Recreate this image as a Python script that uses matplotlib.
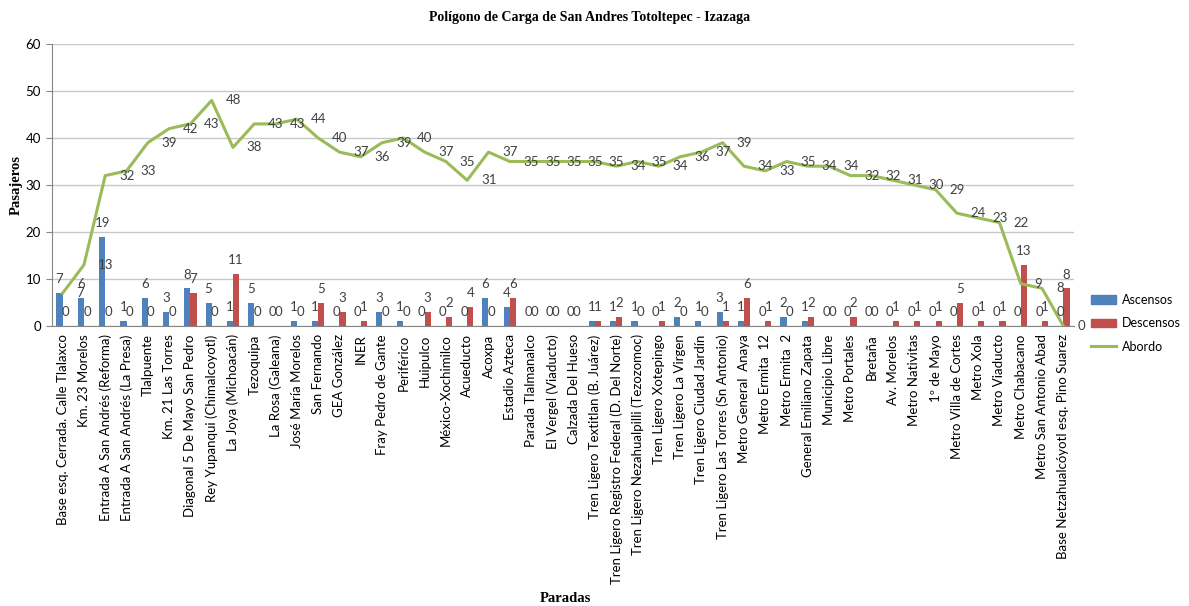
import numpy as np
import matplotlib
matplotlib.use('Agg')
from matplotlib import pyplot as plt
from matplotlib.lines import Line2D
from matplotlib.patches import Patch

paradas = ['Base esq. Cerrada. Calle Tlalaxco', 'Km. 23 Morelos', 'Entrada A San Andrés (Reforma)',
           'Entrada A San Andrés (La Presa)', 'Tlalpuente', 'Km. 21 Las Torres', 'Diagonal 5 De Mayo San Pedro',
           'Rey Yupanqui (Chimalcoyotl)', 'La Joya (Michoacán)', 'Tezoquipa', 'La Rosa (Galeana)',
           'José María Morelos', 'San Fernando', 'GEA González', 'INER', 'Fray Pedro de Gante', 'Periférico',
           'Huipulco', 'México-Xochimilco', 'Acueducto', 'Acoxpa', 'Estadio Azteca', 'Parada Tlalmanalco',
           'El Vergel (Viaducto)', 'Calzada Del Hueso', 'Tren Ligero Textitlan (B. Juárez)',
           'Tren Ligero Registro Federal (D. Del Norte)', 'Tren Ligero Nezahualpilli (Tezozomoc)',
           'Tren Ligero Xotepingo', 'Tren Ligero La Virgen', 'Tren Ligero Ciudad Jardín',
           'Tren Ligero Las Torres (Sn Antonio)', 'Metro General  Anaya', 'Metro Ermita  12', 'Metro Ermita  2',
           'General Emiliano Zapata', 'Municipio Libre', 'Metro Portales', 'Bretaña', 'Av. Morelos',
           'Metro Nativitas', '1º de Mayo', 'Metro Villa de Cortes', 'Metro Xola', 'Metro Viaducto',
           'Metro Chabacano', 'Metro San Antonio Abad', 'Base Netzahualcóyotl esq. Pino Suarez']

ascensos = [7, 6, 19, 1, 6, 3, 8, 5, 1, 5, 0, 1, 1, 0, 0, 3, 1, 0, 0, 0, 6, 4, 0, 0,
            0, 1, 1, 1, 0, 2, 1, 3, 1, 0, 2, 1, 0, 0, 0, 0, 0, 0, 0, 0, 0, 0, 0, 0]
descensos = [0, 0, 0, 0, 0, 0, 7, 0, 11, 0, 0, 0, 5, 3, 1, 0, 0, 3, 2, 4, 0, 6, 0, 0,
             0, 1, 2, 0, 1, 0, 0, 1, 6, 1, 0, 2, 0, 2, 0, 1, 1, 1, 5, 1, 1, 13, 1, 8]
abordo = [7, 13, 32, 33, 39, 42, 43, 48, 38, 43, 43, 44, 40, 37, 36, 39, 40, 37, 35, 31, 37, 35, 35, 35,
          35, 35, 34, 35, 34, 36, 37, 39, 34, 33, 35, 34, 34, 32, 32, 31, 30, 29, 24, 23, 22, 9, 8, 0]

azul = '#4F81BD'
rojo = '#C0504D'
verde = '#9BBB59'

plt.rcParams['font.family'] = ['Lato', 'DejaVu Sans']

fig = plt.figure(figsize=(11.89, 6.06), dpi=100)
ax = fig.add_axes([52 / 1189, 1 - 326 / 606, 1022 / 1189, 282 / 606])

x = np.arange(len(paradas))
w = 0.29
ax.bar(x - w / 2, ascensos, w, color=azul, zorder=2)
ax.bar(x + w / 2, descensos, w, color=rojo, zorder=2)
ax.plot(x, abordo, color=verde, lw=2.2, zorder=3)

lab_color = '#404040'
for i in range(len(paradas)):
    ax.annotate(str(ascensos[i]), (x[i] - w / 2, ascensos[i]), xytext=(0, 10), textcoords='offset points',
                ha='center', va='center', fontsize=9.5, color=lab_color, zorder=4)
    ax.annotate(str(descensos[i]), (x[i] + w / 2, descensos[i]), xytext=(0, 10), textcoords='offset points',
                ha='center', va='center', fontsize=9.5, color=lab_color, zorder=4)
    ax.annotate(str(abordo[i]), (x[i], abordo[i]), xytext=(10, 0), textcoords='offset points',
                ha='left', va='center', fontsize=9.5, color=lab_color, zorder=4)

ax.set_xlim(-0.5, len(paradas) - 0.5)
ax.set_ylim(0, 60)
ax.set_yticks(range(0, 61, 10))
ax.set_xticks(x)
ax.set_xticklabels(paradas, rotation=90, fontsize=9.5)
ax.tick_params(axis='x', length=0, pad=6)
ax.tick_params(axis='y', labelsize=9.5, length=4, color='#868686', pad=4)
ax.grid(axis='y', color='#C8C8C8', lw=1, zorder=0)
for s in ['top', 'right']:
    ax.spines[s].set_visible(False)
for s in ['left', 'bottom']:
    ax.spines[s].set_color('#868686')

fig.text(590 / 1189, 1 - 18 / 606, 'Polígono de Carga de San Andres Totoltepec - Izazaga', ha='center', va='center',
         fontsize=10, fontweight='bold', family='Liberation Serif')
fig.text(16 / 1189, 1 - 185 / 606, 'Pasajeros', rotation=90, ha='center', va='center',
         fontsize=10.5, fontweight='bold', family='Liberation Serif')
fig.text(565 / 1189, 1 - 598 / 606, 'Paradas', ha='center', va='center',
         fontsize=10.5, fontweight='bold', family='Liberation Serif')

handles = [Patch(color=azul), Patch(color=rojo), Line2D([], [], color=verde, lw=2.2)]
fig.legend(handles, ['Ascensos', 'Descensos', 'Abordo'], loc='upper left',
           bbox_to_anchor=(1086 / 1189, 1 - 289 / 606), frameon=False, fontsize=9,
           handlelength=2.0, handletextpad=0.5, labelspacing=0.9, borderaxespad=0)

fig.savefig('out.png', dpi=100)
